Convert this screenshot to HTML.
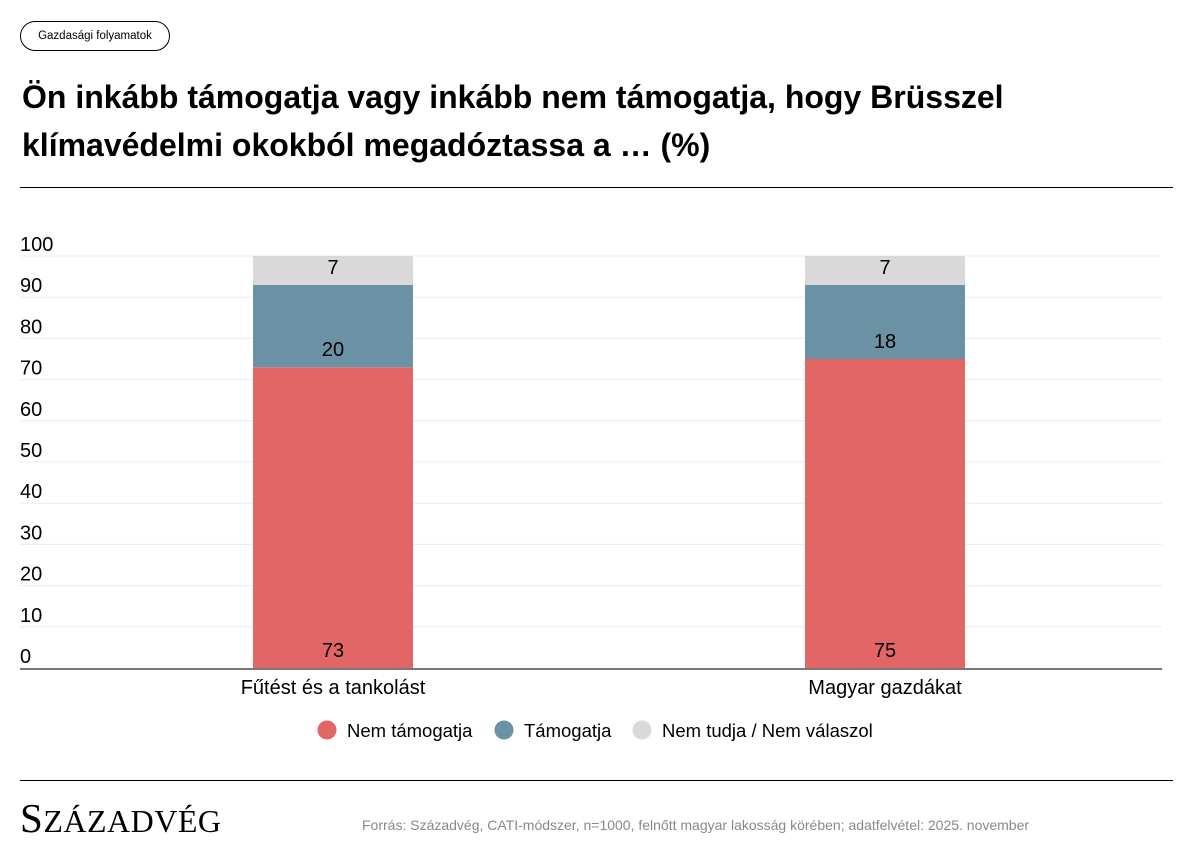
<!DOCTYPE html>
<html><head><meta charset="utf-8"><style>
body{margin:0;background:#fff;width:1193px;height:855px;overflow:hidden;font-family:"Liberation Sans",sans-serif;position:relative}
.pill{position:absolute;left:20px;top:21px;width:150px;height:30px;border:1px solid #000;border-radius:16px;box-sizing:border-box;font-size:11.5px;display:flex;align-items:center;justify-content:center}
h1{position:absolute;left:22px;top:73px;margin:0;font-size:32px;font-weight:bold;line-height:48px;width:1050px}
.rule{position:absolute;left:20px;width:1153px;height:1px;background:#000}
.logo{position:absolute;left:20px;top:796px;font-family:"Liberation Serif",serif;font-size:32px;line-height:44px;letter-spacing:0.5px;white-space:nowrap}
.logo .big{font-size:41px}
.src{position:absolute;left:362px;top:817px;font-size:14px;color:#888;white-space:nowrap}
</style></head><body>
<div class="pill">Gazdasági folyamatok</div>
<h1>Ön inkább támogatja vagy inkább nem támogatja, hogy Brüsszel<br>klímavédelmi okokból megadóztassa a … (%)</h1>
<div class="rule" style="top:187px"></div>
<svg id="c" width="1193" height="855" style="position:absolute;left:0;top:0"></svg>
<div class="rule" style="top:780px"></div>
<div class="logo"><span class="big">S</span>ZÁZADVÉG</div>
<div class="src">Forrás: Századvég, CATI-módszer, n=1000, felnőtt magyar lakosság körében; adatfelvétel: 2025. november</div>
<script>
const categories=["Fűtést és a tankolást","Magyar gazdákat"];
const nemTamogatja=[73,75];
const tamogatja=[20,18];
const nemTudja=[7,7];
const seriesNames=["Nem támogatja","Támogatja","Nem tudja / Nem válaszol"];
const yTicks=[0,10,20,30,40,50,60,70,80,90,100];
const colors=["#e26665","#6b91a5","#d9d9d9"];
const svg=document.getElementById('c'),NS="http://www.w3.org/2000/svg";
const y=v=>668-v*4.12;
const xc=i=>333+i*552;
function mk(t,a,txt){const e=document.createElementNS(NS,t);for(const k in a)e.setAttribute(k,a[k]);if(txt!==undefined)e.textContent=txt;svg.appendChild(e);return e;}
yTicks.forEach(v=>{
 if(v>0){const g=mk('line',{x1:20,x2:1162,y1:y(v),y2:y(v),stroke:'#ececec','stroke-width':1});
 
 }
 const t=mk('text',{x:20,y:y(v)-5,'font-size':20,fill:'#000'},String(v));
 
 
});
const series=[nemTamogatja,tamogatja,nemTudja];
categories.forEach((c,i)=>{
 let base=0;
 series.forEach((s,k)=>{
  const v=s[i];
  const r=mk('rect',{x:xc(i)-80,width:160,y:y(base+v),height:v*4.12,fill:colors[k]});
  
  
  const t=mk('text',{x:xc(i),y:y(base)-11,'font-size':20,'text-anchor':'middle',fill:'#000'},String(v));
  
  
  base+=v;
 });
 const l=mk('text',{x:xc(i),y:694,'font-size':20,'text-anchor':'middle'},c);
 
 
});
const ax=mk('line',{x1:20,x2:1162,y1:669,y2:669,stroke:'#777','stroke-width':2});


const lx=[327,504,642];
seriesNames.forEach((n,k)=>{
 const c=mk('circle',{cx:lx[k],cy:730,r:9.5,fill:colors[k]});
 
 
 const t=mk('text',{x:lx[k]+20,y:737,'font-size':18.5},n);
 
 
});
</script>
</body></html>
